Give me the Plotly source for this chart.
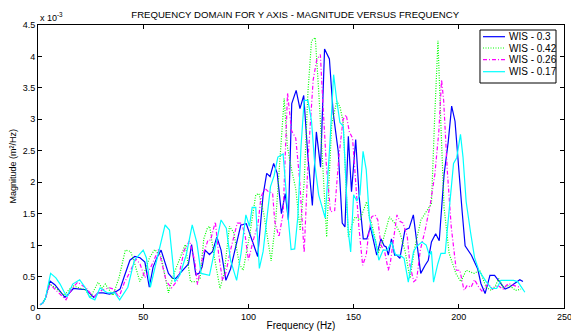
import plotly.graph_objects as go

# ---- data (magnitude in units of 1e-3) ----
freq_03 = [1, 2.2, 3.5, 5.7, 8, 10.5, 12.8, 15, 16.8, 20, 23, 26.5, 28.5, 31, 34, 37, 39, 41, 43.7, 46, 48.5, 50.8, 52.9, 54.7, 56.5, 58.5, 60.5, 62, 64, 65.5, 67.5, 70, 71.5, 73, 75, 76.5, 78, 79.4, 81.5, 83, 85, 87, 89.3, 91.5, 92.5, 94, 96.4, 99, 100.5, 102.5, 104.4, 107, 108.7, 110.3, 112, 113.7, 115.7, 117.5, 119, 120.6, 122.7, 124.5, 126.3, 128.3, 130.4, 132.3, 134.3, 136.2, 138.5, 140.3, 142.7, 144.6, 145.9, 147.5, 149, 151, 152.7, 154.6, 156.3, 158, 159.5, 161, 163, 164.5, 165.5, 166.5, 168, 169.5, 170.5, 172, 174.4, 176.4, 178.4, 180, 181.9, 184, 185.5, 187, 189, 190.7, 193, 195, 196.6, 198.2, 200, 201.6, 203, 206, 209, 210.5, 212.5, 214.8, 217, 219.6, 222, 224, 226.3, 229, 230.5]
mag_03 = [0.05, 0.08, 0.15, 0.43, 0.37, 0.27, 0.17, 0.24, 0.31, 0.30, 0.29, 0.17, 0.24, 0.24, 0.22, 0.26, 0.30, 0.50, 0.76, 0.82, 0.80, 0.73, 0.33, 0.65, 0.80, 0.92, 0.70, 0.55, 0.47, 0.47, 0.55, 0.65, 0.70, 1.01, 0.53, 0.55, 0.65, 0.92, 0.85, 0.90, 1.13, 0.92, 0.44, 0.62, 0.76, 0.98, 1.32, 1.34, 1.20, 0.98, 0.82, 1.80, 2.14, 2.09, 2.30, 2.14, 1.50, 1.82, 1.40, 3.25, 3.46, 3.17, 3.38, 2.40, 1.63, 2.80, 2.24, 4.12, 3.96, 3.10, 2.49, 1.35, 1.29, 2.73, 1.85, 2.68, 1.75, 1.10, 1.10, 1.29, 1.05, 0.84, 1.10, 0.99, 0.97, 0.84, 1.10, 0.84, 0.84, 0.79, 1.24, 1.27, 1.48, 1.05, 0.55, 0.68, 0.76, 1.05, 1.18, 1.07, 2.12, 2.65, 3.21, 2.97, 2.12, 1.53, 0.99, 0.84, 0.62, 0.39, 0.23, 0.52, 0.52, 0.41, 0.30, 0.33, 0.39, 0.45, 0.42]

freq_042 = [1, 2.2, 3.5, 5.5, 8, 10.5, 12.5, 15, 16.8, 19.5, 22.5, 25, 28.5, 30.5, 32, 35.6, 38.5, 41.5, 44, 46, 48.4, 50.5, 53, 55.5, 58.5, 62, 64.5, 67, 70, 72.5, 75.5, 77, 78.8, 80.5, 81.6, 83.5, 86.5, 88.5, 91, 93, 95.7, 97.5, 100.8, 103.5, 105, 107.3, 109, 110.8, 113, 115, 117, 118.5, 120.5, 122.5, 124.6, 126.5, 128.3, 130, 131.8, 133.5, 135, 137.2, 138.3, 139.6, 142, 143.5, 145, 147.5, 149, 150.7, 153, 156.2, 157.5, 159, 161.7, 164, 167, 169.5, 172, 174.5, 176.8, 179, 182, 184.6, 187, 188.5, 190.1, 191.5, 193, 195.4, 198.6, 201, 203.5, 207.3, 210, 213, 215.5, 217.5, 219, 221, 224, 227, 229.6]
mag_042 = [0.05, 0.08, 0.15, 0.38, 0.33, 0.25, 0.20, 0.30, 0.35, 0.32, 0.29, 0.17, 0.41, 0.32, 0.38, 0.20, 0.48, 0.92, 0.90, 0.70, 0.42, 0.56, 0.80, 0.93, 0.82, 0.24, 0.54, 0.75, 1.01, 0.42, 0.42, 0.47, 1.10, 1.27, 1.30, 0.87, 0.31, 0.55, 1.30, 1.20, 0.70, 0.60, 1.20, 1.80, 1.82, 1.50, 1.10, 0.75, 1.40, 2.38, 3.33, 2.57, 2.20, 1.90, 1.23, 2.00, 3.43, 4.25, 4.30, 3.40, 2.50, 1.13, 2.00, 2.92, 3.29, 3.20, 2.97, 1.13, 1.30, 1.45, 1.40, 1.69, 1.45, 1.29, 0.87, 1.08, 1.45, 1.35, 1.20, 0.90, 0.47, 0.95, 1.40, 1.54, 1.66, 3.00, 4.25, 2.90, 1.60, 0.87, 0.55, 0.42, 0.60, 0.55, 0.60, 0.33, 0.28, 0.36, 0.47, 0.33, 0.36, 0.28, 0.30]

freq_026 = [1, 2.2, 3.5, 5.7, 8, 10.5, 13.3, 16, 18.8, 22.8, 26.5, 30.5, 34, 36, 38.5, 41, 43.5, 46.5, 48.5, 50.8, 53.5, 57.3, 59, 61, 63.5, 66.5, 69.5, 72, 74.5, 75.8, 78.5, 80.8, 82, 84.3, 85.8, 87.7, 89.2, 91.5, 94.7, 96.8, 98.5, 100, 102.5, 104.5, 106, 107.9, 109.5, 111.5, 112.5, 114.5, 116.5, 118.6, 120.5, 122.5, 124.3, 126.5, 128.5, 130.8, 132.5, 134.2, 135.5, 137, 139, 141, 143, 145, 146.5, 148, 149.5, 151, 152.5, 154.3, 156, 157, 158.6, 160.2, 161.5, 163, 164.8, 166.5, 167.5, 169, 170.6, 172, 173.5, 175.5, 176.8, 178.6, 180, 181.7, 184, 186.4, 188.6, 190.5, 191.8, 192.8, 194.5, 196.4, 198.8, 200.5, 202.5, 204, 205.8, 207.5, 209.5, 211, 214, 216, 218.5, 221, 223.5, 226, 229]
mag_026 = [0.05, 0.08, 0.15, 0.38, 0.30, 0.22, 0.13, 0.30, 0.41, 0.32, 0.17, 0.29, 0.32, 0.30, 0.17, 0.40, 0.56, 0.78, 0.70, 0.48, 0.64, 0.93, 0.70, 0.42, 0.32, 0.45, 0.92, 1.07, 0.75, 0.37, 0.85, 1.08, 1.08, 1.37, 0.87, 0.44, 0.55, 0.92, 1.35, 1.35, 1.14, 0.76, 1.10, 1.32, 1.77, 1.90, 1.85, 1.83, 1.38, 1.13, 1.50, 3.42, 2.82, 2.70, 2.06, 0.88, 2.45, 3.63, 3.95, 4.03, 3.20, 2.30, 1.53, 1.55, 2.40, 3.00, 3.07, 2.80, 2.70, 2.00, 1.29, 0.68, 0.84, 1.14, 1.45, 1.48, 1.40, 1.00, 0.89, 0.60, 0.73, 1.10, 1.48, 1.38, 1.35, 1.14, 0.68, 0.42, 0.46, 0.92, 1.24, 1.64, 2.12, 2.80, 3.63, 3.30, 2.20, 1.29, 0.60, 0.60, 0.28, 0.36, 0.33, 0.45, 0.33, 0.27, 0.39, 0.30, 0.36, 0.30, 0.39, 0.36, 0.33]

freq_017 = [1, 2.2, 3.5, 6, 8.5, 10.5, 12.5, 13.8, 16.5, 19.8, 22.5, 24.5, 27, 29.5, 33, 36.5, 38.8, 42.7, 45.8, 48, 50, 51.5, 53.4, 56, 58, 60.4, 62.5, 65, 67.5, 70.5, 73.3, 75.5, 77.5, 79.5, 81.5, 84, 87, 89.5, 91.5, 94.4, 96.5, 98.8, 100.5, 101.8, 103.5, 105.2, 107, 108.7, 110.5, 112.2, 114, 116.5, 117.8, 119, 120.3, 122, 123.5, 125, 126.5, 128.3, 130, 131.5, 133.4, 135, 136.5, 138.8, 140.5, 142, 143.5, 145.1, 146.5, 147.5, 148.6, 150, 151.5, 153, 154.5, 156, 157.5, 159, 160.5, 162, 164, 166, 168, 170, 172, 174, 176, 178.5, 180, 182.5, 184.5, 186, 187, 188, 190, 191.5, 193.5, 195, 196.5, 197.5, 199, 200.8, 202, 203.5, 205.6, 207.5, 209.5, 211, 213, 215.5, 218, 220, 223, 226, 228, 229.5, 231.4]
mag_017 = [0.05, 0.08, 0.15, 0.55, 0.48, 0.38, 0.25, 0.18, 0.38, 0.45, 0.32, 0.17, 0.13, 0.32, 0.24, 0.24, 0.13, 0.33, 0.76, 0.85, 0.92, 0.80, 0.33, 0.70, 1.00, 1.32, 1.24, 0.42, 0.53, 0.85, 1.32, 1.04, 0.55, 0.53, 0.52, 0.92, 1.40, 1.27, 0.76, 0.44, 0.87, 1.48, 1.30, 1.60, 1.60, 0.63, 0.90, 1.40, 1.93, 2.10, 2.40, 2.45, 1.85, 1.40, 0.93, 0.94, 1.45, 2.56, 3.30, 3.30, 2.97, 2.30, 1.80, 1.60, 1.43, 2.65, 3.71, 3.30, 2.95, 2.89, 2.00, 1.21, 0.89, 1.80, 1.70, 1.80, 2.49, 2.20, 1.43, 1.20, 1.05, 0.76, 0.92, 0.92, 1.05, 0.84, 0.84, 0.79, 0.41, 0.90, 0.98, 1.05, 1.00, 0.84, 0.90, 0.41, 0.70, 0.87, 0.87, 1.42, 2.00, 2.30, 2.39, 2.76, 2.40, 1.69, 1.20, 0.80, 0.60, 0.52, 0.42, 0.31, 0.31, 0.44, 0.44, 0.44, 0.42, 0.35, 0.25]

series_names = ["WIS - 0.3", "WIS - 0.42", "WIS - 0.26", "WIS - 0.17"]
series_freqs = [freq_03, freq_042, freq_026, freq_017]
series_mags = [mag_03, mag_042, mag_026, mag_017]
series_colors = ["#0000ff", "#00ff00", "#ff00ff", "#00ffff"]
series_dashes = ["solid", "1px,1.5px", "4px,2px,1px,2px", "solid"]

x_ticks = [0, 50, 100, 150, 200, 250]
x_tick_text = ["0", "50", "100", "150", "200", ""]   # last label drawn separately (it is cut by the page edge)
x_last_label = "250"
y_ticks = [0, 0.5, 1, 1.5, 2, 2.5, 3, 3.5, 4, 4.5]
y_tick_text = ["0", "0.5", "1", "1.5", "2", "2.5", "3", "3.5", "4", "4.5"]

FONT = "Liberation Sans, Arial, sans-serif"

fig = go.Figure()
for name, fx, fy, col, dash in zip(series_names, series_freqs, series_mags, series_colors, series_dashes):
    fig.add_trace(go.Scatter(x=fx, y=fy, mode="lines", name=name, showlegend=False,
                             line=dict(color=col, width=1.2, dash=dash)))

axis_common = dict(showgrid=False, zeroline=False, showline=True, linecolor="black",
                   linewidth=1, mirror="ticks", ticks="inside", ticklen=4, automargin=False,
                   tickcolor="black", tickfont=dict(family=FONT, size=9, color="black"))

fig.update_xaxes(range=[0, 250], tickvals=x_ticks, ticktext=x_tick_text, **axis_common,
                 title=dict(text="Frequency (Hz)", font=dict(family=FONT, size=10, color="black")))
fig.update_yaxes(range=[0, 4.5], tickvals=y_ticks, ticktext=y_tick_text, **axis_common)

fig.add_annotation(text=x_last_label, xref="x", yref="paper", x=x_ticks[-1], y=0,
                   xanchor="center", yanchor="top", yshift=-2, showarrow=False,
                   font=dict(family=FONT, size=9, color="black"))

# y-axis title and exponent note
fig.add_annotation(text="Magnitude (m²/Hz)", xref="paper", yref="paper", x=-0.0494, y=0.5,
                   xanchor="center", yanchor="middle", textangle=-90, showarrow=False,
                   font=dict(family=FONT, size=9, color="black"))
fig.add_annotation(text="x 10<sup>-3</sup>", xref="paper", yref="paper", x=0, y=1,
                   xanchor="left", yanchor="bottom", showarrow=False,
                   font=dict(family=FONT, size=9, color="black"))

# ---- legend box (drawn in paper coordinates, styled like the original) ----
leg_x0, leg_x1, leg_y0, leg_y1 = 0.8403, 0.9848, 0.795, 0.9823
leg_rows = [0.9587, 0.9187, 0.8774, 0.8350]
fig.add_shape(type="rect", xref="paper", yref="paper", x0=leg_x0, x1=leg_x1, y0=leg_y0, y1=leg_y1,
              line=dict(color="black", width=1), fillcolor="white", layer="above")
for name, col, dash, yy in zip(series_names, series_colors, series_dashes, leg_rows):
    fig.add_shape(type="line", xref="paper", yref="paper", x0=0.8460, x1=0.8878, y0=yy, y1=yy,
                  line=dict(color=col, width=1.2, dash=dash), layer="above")
    fig.add_annotation(text=name, xref="paper", yref="paper", x=0.8916, y=yy,
                       xanchor="left", yanchor="middle", showarrow=False,
                       font=dict(family=FONT, size=10, color="black"))

fig.update_layout(
    width=571, height=331,
    margin=dict(l=38, r=7, t=25, b=23),
    paper_bgcolor="white", plot_bgcolor="white",
    title=dict(text="FREQUENCY DOMAIN FOR Y AXIS - MAGNITUDE VERSUS FREQUENCY",
               x=0.517, xanchor="center", y=0.957, yanchor="middle",
               font=dict(family=FONT, size=9.6, color="black")),
    showlegend=False,
)

fig.write_html("out.html")
